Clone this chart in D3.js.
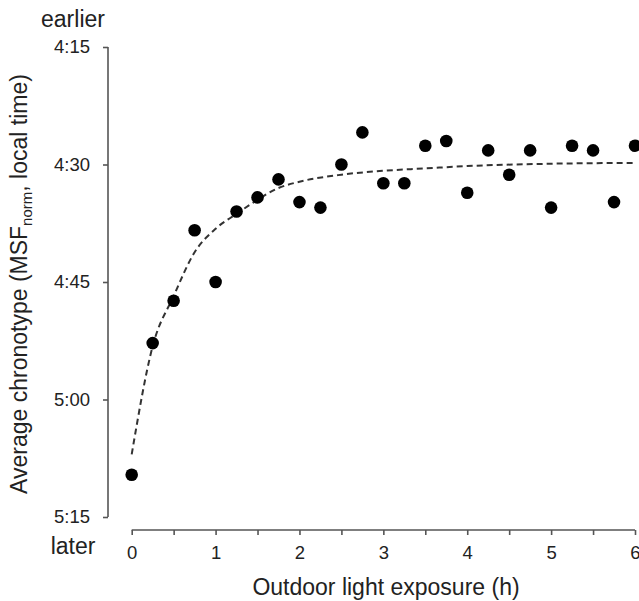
<!DOCTYPE html>
<html>
<head>
<meta charset="utf-8">
<script src="https://cdn.jsdelivr.net/npm/d3@7"></script>
<style>
  body { margin: 0; background: #fff; }
  text { font-family: "Liberation Sans", Arial, sans-serif; fill: #222; }
</style>
</head>
<body>
<div id="chart"></div>
<script>
(function () {
    var width = 639,
        height = 601;

    // outdoor light exposure (h)
    var exposure = [0, 0.25, 0.5, 0.75, 1, 1.25, 1.5, 1.75, 2, 2.25, 2.5, 2.75, 3,
                    3.25, 3.5, 3.75, 4, 4.25, 4.5, 4.75, 5, 5.25, 5.5, 5.75, 6]
    // average chronotype, minutes after 4:00
    var chronotype = [69.6, 52.8, 47.4, 38.4, 45.0, 36.0, 34.2, 31.9, 34.8, 35.5, 30.0, 25.9, 32.4,
                      32.4, 27.6, 27.0, 33.6, 28.2, 31.3, 28.2, 35.5, 27.6, 28.2, 34.8, 27.6]

    // fitted curve
    var fitX = [0, 0.25, 0.5, 0.75, 1, 1.25, 1.5, 1.75, 2, 2.5, 3, 3.5, 4, 5, 6]
    var fitY = [67.0, 53.2, 46.8, 41.2, 38.2, 36.3, 34.5, 33.0, 32.2, 31.3, 30.8, 30.5, 30.2, 29.9, 29.8]

    var xTicks = [0, 1, 2, 3, 4, 5, 6]
    var xMinorTicks = [0, 0.5, 1, 1.5, 2, 2.5, 3, 3.5, 4, 4.5, 5, 5.5, 6]
    var yTicks = [15, 30, 45, 60, 75]

    var svg = d3.select("#chart")
        .append("svg")
        .attr("width", width)
        .attr("height", height)

    var x = d3.scaleLinear().domain([0, 6]).range([131.7, 635])
    var y = d3.scaleLinear().domain([15, 75]).range([47, 517])

    function fmtTime(m) {
        var h = 4 + Math.floor(m / 60)
        var mm = m % 60
        return h + ":" + (mm < 10 ? "0" : "") + mm
    }

    // y axis
    var yAxis = svg.append("g")
        .attr("transform", "translate(108,0)")
        .call(d3.axisLeft(y).tickValues(yTicks).tickFormat(fmtTime).tickSize(5).tickPadding(13))
    yAxis.select(".domain").attr("d", "M0," + y(15) + "V" + y(75))

    // x axis
    var xAxis = svg.append("g")
        .attr("transform", "translate(0,530)")
        .call(d3.axisBottom(x).tickValues(xMinorTicks)
            .tickFormat(function (d) { return xTicks.indexOf(d) >= 0 ? d : "" })
            .tickSize(5).tickPadding(11))
    xAxis.select(".domain").attr("d", "M" + x(0) + ",0H" + x(6))

    svg.selectAll(".domain, .tick line")
        .attr("stroke", "#555")
        .attr("stroke-width", 1.6)
    svg.selectAll(".tick text")
        .style("font-size", "18.5px")
        .attr("fill", "#222")

    // fitted dashed curve
    var line = d3.line()
        .x(function (d) { return x(d[0]) })
        .y(function (d) { return y(d[1]) })
        .curve(d3.curveMonotoneX)

    svg.append("path")
        .datum(d3.zip(fitX, fitY))
        .attr("d", line)
        .attr("fill", "none")
        .attr("stroke", "#333")
        .attr("stroke-width", 2)
        .attr("stroke-dasharray", "6,4")

    // data points
    svg.selectAll(".dot")
        .data(d3.zip(exposure, chronotype))
        .enter().append("circle")
        .attr("class", "dot")
        .attr("cx", function (d) { return x(d[0]) })
        .attr("cy", function (d) { return y(d[1]) })
        .attr("r", 6.3)
        .attr("fill", "#000")

    // labels
    svg.append("text")
        .attr("x", 73).attr("y", 27)
        .attr("text-anchor", "middle")
        .style("font-size", "23px")
        .text("earlier")

    svg.append("text")
        .attr("x", 73).attr("y", 554)
        .attr("text-anchor", "middle")
        .style("font-size", "23px")
        .text("later")

    svg.append("text")
        .attr("x", 386).attr("y", 595)
        .attr("text-anchor", "middle")
        .style("font-size", "23px")
        .text("Outdoor light exposure (h)")

    var yTitle = svg.append("text")
        .attr("transform", "translate(27,284) rotate(-90)")
        .attr("text-anchor", "middle")
        .style("font-size", "23px")
    yTitle.append("tspan").text("Average chronotype (MSF")
    yTitle.append("tspan").attr("dy", 5).style("font-size", "15px").text("norm")
    yTitle.append("tspan").attr("dy", -5).text(", local time)")
})();
</script>
</body>
</html>
